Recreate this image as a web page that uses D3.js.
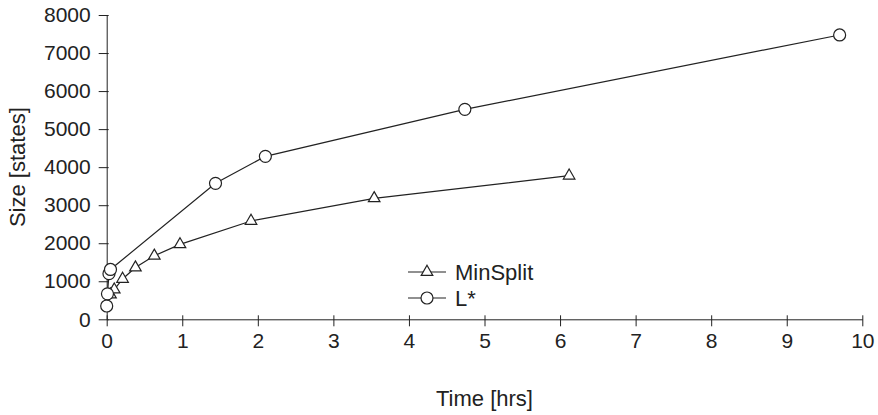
<!DOCTYPE html>
<html>
<head>
<meta charset="utf-8">
<script src="https://cdn.jsdelivr.net/npm/d3@7"></script>
<style>
  body { margin: 0; background: #fff; }
  text { font-family: "Liberation Sans", Arial, sans-serif; fill: #222; }
</style>
</head>
<body>
<svg id="chart" width="878" height="415"></svg>
<script>
// data
const minSplitTime = [0.05, 0.10, 0.21, 0.38, 0.63, 0.97, 1.91, 3.54, 6.12];
const minSplitSize = [650, 780, 1060, 1360, 1670, 1970, 2585, 3180, 3775];
const lStarTime = [0.00, 0.01, 0.03, 0.05, 1.44, 2.10, 4.74, 9.70];
const lStarSize = [350, 670, 1200, 1310, 3575, 4285, 5520, 7475];
const xTicks = [0, 1, 2, 3, 4, 5, 6, 7, 8, 9, 10];
const yTicks = [0, 1000, 2000, 3000, 4000, 5000, 6000, 7000, 8000];

const series = [
  { name: "MinSplit", marker: "triangle", x: minSplitTime, y: minSplitSize },
  { name: "L*", marker: "circle", x: lStarTime, y: lStarSize }
];

const svg = d3.select("#chart");
const INK = "#222";

const x = d3.scaleLinear().domain([0, 10]).range([106.7, 862.3]);
const y = d3.scaleLinear().domain([0, 8000]).range([319.3, 15]);

// x axis, ticks poke a little above the line
const xAxis = svg.append("g")
  .attr("transform", `translate(0,${y(0)})`)
  .call(d3.axisBottom(x).tickValues(xTicks).tickSizeInner(7).tickSizeOuter(0).tickPadding(7));
xAxis.selectAll(".tick line").attr("y1", -4);

// y axis, ticks poke a little right of the line
const yAxis = svg.append("g")
  .attr("transform", `translate(${x(0)},0)`)
  .call(d3.axisLeft(y).tickValues(yTicks).tickFormat(d3.format("d")).tickSizeInner(8).tickSizeOuter(0).tickPadding(8));
yAxis.selectAll(".tick line").attr("x1", 2);

svg.selectAll(".domain, .tick line").attr("stroke", INK).attr("stroke-width", 1);
svg.selectAll(".tick text").attr("fill", INK).style("font-size", "21px");

svg.append("text")
  .attr("x", x(5))
  .attr("y", 406)
  .attr("text-anchor", "middle")
  .style("font-size", "22px")
  .text("Time [hrs]");

svg.append("text")
  .attr("transform", `translate(25,${y(4000)}) rotate(-90)`)
  .attr("text-anchor", "middle")
  .style("font-size", "22px")
  .text("Size [states]");

const tri = d3.symbol().type(d3.symbolTriangle).size(58);

function drawMarker(g, kind, cx, cy) {
  if (kind === "circle") {
    g.append("circle").attr("cx", cx).attr("cy", cy).attr("r", 6)
      .attr("fill", "#fff").attr("stroke", INK).attr("stroke-width", 1.2);
  } else {
    g.append("path").attr("d", tri).attr("transform", `translate(${cx},${cy})`)
      .attr("fill", "#fff").attr("stroke", INK).attr("stroke-width", 1.2);
  }
}

const line = d3.line().x(d => x(d[0])).y(d => y(d[1]));

series.forEach(s => {
  const pts = s.x.map((v, i) => [v, s.y[i]]);
  const g = svg.append("g");
  g.append("path")
    .attr("d", line(pts))
    .attr("fill", "none")
    .attr("stroke", INK)
    .attr("stroke-width", 1.2);
  pts.forEach(p => drawMarker(g, s.marker, x(p[0]), y(p[1])));
});

// legend
const legend = svg.append("g").attr("transform", "translate(408,272)");
series.forEach((s, i) => {
  const row = legend.append("g").attr("transform", `translate(0,${i * 26})`);
  row.append("line").attr("x1", 0).attr("x2", 38).attr("y1", 0).attr("y2", 0)
    .attr("stroke", INK).attr("stroke-width", 1.2);
  drawMarker(row, s.marker, 19, 0);
  row.append("text")
    .attr("x", 47)
    .attr("y", 8)
    .style("font-size", "22px")
    .text(s.name);
});
</script>
</body>
</html>
